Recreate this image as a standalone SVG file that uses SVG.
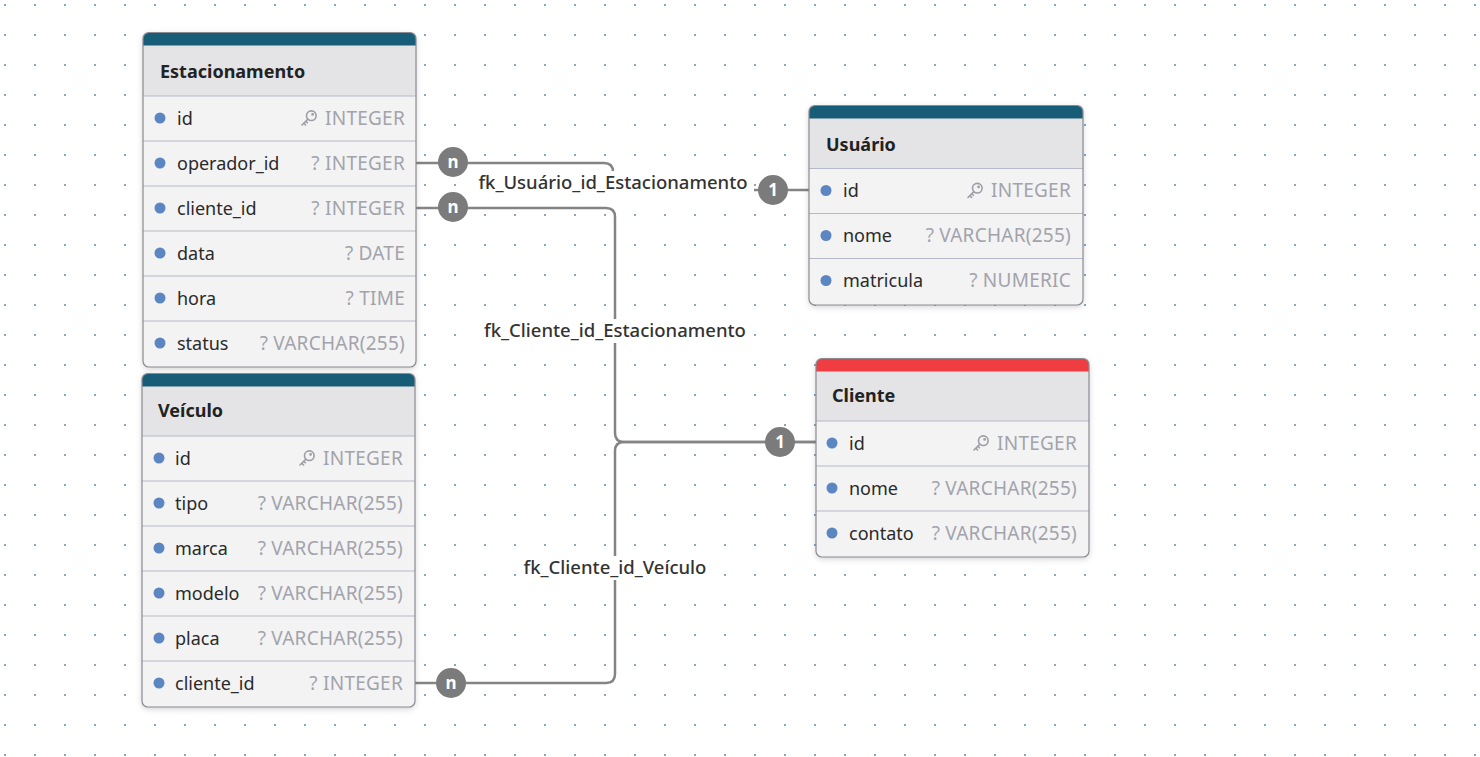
<svg xmlns="http://www.w3.org/2000/svg" xmlns:xlink="http://www.w3.org/1999/xlink" width="1480" height="757" viewBox="0 0 1480 757">
<style>
.title{font-family:"Noto Sans","Open Sans",sans-serif;font-size:18px;font-weight:700;fill:#222}
.fname{font-family:"Noto Sans","Open Sans",sans-serif;font-size:18px;fill:#2a2a2a}
.ftype{font-family:"Noto Sans","Open Sans",sans-serif;font-size:19px;letter-spacing:0.25px;fill:#a2a3ab;text-anchor:end}
.lbl{font-family:"Noto Sans","Open Sans",sans-serif;font-size:18.5px;font-weight:500;fill:#333;text-anchor:middle}
.card{font-family:"Noto Sans","Open Sans",sans-serif;font-size:17px;font-weight:700;fill:#fff;text-anchor:middle}
.body{fill:#f3f3f4}
.hdr{fill:#e4e4e7}
.teal{fill:#185d78}
.red{fill:#ef3d42}
.sep{stroke:#b6b9c7;stroke-width:1}
.border{fill:none;stroke:#8b8b93;stroke-width:1.2}
.dot{fill:#5b86c1}
.conn{fill:none;stroke:#848484;stroke-width:2.5}
.badge{fill:#7b7b7b}
.lblbg{fill:#ffffff}
.key{fill:none;stroke:#9c9da5;stroke-width:1.6;stroke-linecap:round}
</style>
<defs>
<pattern id="grid" x="0" y="0" width="30" height="30" patternUnits="userSpaceOnUse">
<rect x="4" y="4" width="2" height="2" fill="#7fa8c9"/>
</pattern>
<filter id="sh" x="-10%" y="-10%" width="120%" height="120%">
<feDropShadow dx="0" dy="2" stdDeviation="3" flood-color="#000" flood-opacity="0.18"/>
</filter>
<symbol id="keyic" viewBox="0 0 16 16" width="16" height="16" overflow="visible">
<circle class="key" cx="10.3" cy="5.7" r="4.8"/>
<circle class="key" cx="11.6" cy="4.4" r="0.6"/>
<path class="key" d="M7 9 L1 15 M2.8 13.2 L4.6 15 M4.8 11.2 L6.4 12.8"/>
</symbol>
</defs>
<rect width="1480" height="757" fill="#ffffff"/>
<rect width="1480" height="757" fill="url(#grid)"/>

<g id="connectors">
<path class="conn" d="M416 163 H604 Q613 163 613 172 V181 Q613 190 622 190 H809"/>
<path class="conn" d="M416 208 H606 Q615 208 615 217 V433 Q615 442 624 442 H816"/>
<path class="conn" d="M415 683 H606 Q615 683 615 674 V451 Q615 442 624 442 H816"/>
<rect class="lblbg" x="472" y="171" width="282" height="24"/>
<text class="lbl" x="613" y="189">fk_Usuário_id_Estacionamento</text>
<rect class="lblbg" x="478" y="319" width="274" height="24"/>
<text class="lbl" x="615" y="337">fk_Cliente_id_Estacionamento</text>
<rect class="lblbg" x="516" y="556" width="198" height="24"/>
<text class="lbl" x="615" y="574">fk_Cliente_id_Veículo</text>
<circle class="badge" cx="453" cy="162" r="15"/>
<text class="card" x="453" y="168">n</text>
<circle class="badge" cx="453" cy="207" r="15"/>
<text class="card" x="453" y="213">n</text>
<circle class="badge" cx="451" cy="683" r="15"/>
<text class="card" x="451" y="689">n</text>
<circle class="badge" cx="773" cy="190" r="15"/>
<text class="card" x="773" y="196">1</text>
<circle class="badge" cx="780" cy="442" r="15"/>
<text class="card" x="780" y="448">1</text>
</g>

<g id="Estacionamento" transform="translate(143,32.5)">
<rect class="body" x="0" y="0" width="273" height="334.5" rx="6" filter="url(#sh)"/>
<path class="hdr" d="M0 6 A6 6 0 0 1 6 0 H267 A6 6 0 0 1 273 6 V63.5 H0 Z"/>
<path class="teal" d="M0 6 A6 6 0 0 1 6 0 H267 A6 6 0 0 1 273 6 V13 H0 Z"/>
<line class="sep" x1="0" y1="63.5" x2="273" y2="63.5"/>
<line class="sep" x1="0" y1="108.5" x2="273" y2="108.5"/>
<line class="sep" x1="0" y1="153.5" x2="273" y2="153.5"/>
<line class="sep" x1="0" y1="198.5" x2="273" y2="198.5"/>
<line class="sep" x1="0" y1="243.5" x2="273" y2="243.5"/>
<line class="sep" x1="0" y1="288.5" x2="273" y2="288.5"/>
<text class="title" x="17" y="45">Estacionamento</text>
<circle class="dot" cx="17" cy="85.5" r="5.5"/><text class="fname" x="34" y="92">id</text>
<use xlink:href="#keyic" x="158" y="77.5"/><text class="ftype" x="262" y="92">INTEGER</text>
<circle class="dot" cx="17" cy="130.5" r="5.5"/><text class="fname" x="34" y="137">operador_id</text><text class="ftype" x="262" y="137">? INTEGER</text>
<circle class="dot" cx="17" cy="175.5" r="5.5"/><text class="fname" x="34" y="182">cliente_id</text><text class="ftype" x="262" y="182">? INTEGER</text>
<circle class="dot" cx="17" cy="220.5" r="5.5"/><text class="fname" x="34" y="227">data</text><text class="ftype" x="262" y="227">? DATE</text>
<circle class="dot" cx="17" cy="265.5" r="5.5"/><text class="fname" x="34" y="272">hora</text><text class="ftype" x="262" y="272">? TIME</text>
<circle class="dot" cx="17" cy="310.5" r="5.5"/><text class="fname" x="34" y="317">status</text><text class="ftype" x="262" y="317">? VARCHAR(255)</text>
<rect class="border" x="0" y="0" width="273" height="334.5" rx="6"/>
</g>

<g id="Usuario" transform="translate(809,105.5)">
<rect class="body" x="0" y="0" width="274" height="199.5" rx="6" filter="url(#sh)"/>
<path class="hdr" d="M0 6 A6 6 0 0 1 6 0 H268 A6 6 0 0 1 274 6 V63 H0 Z"/>
<path class="teal" d="M0 6 A6 6 0 0 1 6 0 H268 A6 6 0 0 1 274 6 V13 H0 Z"/>
<line class="sep" x1="0" y1="63" x2="274" y2="63"/>
<line class="sep" x1="0" y1="108" x2="274" y2="108"/>
<line class="sep" x1="0" y1="153" x2="274" y2="153"/>
<text class="title" x="17" y="45">Usuário</text>
<circle class="dot" cx="17" cy="85" r="5.5"/><text class="fname" x="34" y="91.5">id</text>
<use xlink:href="#keyic" x="158" y="77"/><text class="ftype" x="262" y="91.5">INTEGER</text>
<circle class="dot" cx="17" cy="130" r="5.5"/><text class="fname" x="34" y="136.5">nome</text><text class="ftype" x="262" y="136.5">? VARCHAR(255)</text>
<circle class="dot" cx="17" cy="175" r="5.5"/><text class="fname" x="34" y="181.5">matricula</text><text class="ftype" x="262" y="181.5">? NUMERIC</text>
<rect class="border" x="0" y="0" width="274" height="199.5" rx="6"/>
</g>

<g id="Cliente" transform="translate(816,358.5)">
<rect class="body" x="0" y="0" width="273" height="198.5" rx="6" filter="url(#sh)"/>
<path class="hdr" d="M0 6 A6 6 0 0 1 6 0 H267 A6 6 0 0 1 273 6 V62.5 H0 Z"/>
<path class="red" d="M0 6 A6 6 0 0 1 6 0 H267 A6 6 0 0 1 273 6 V13 H0 Z"/>
<line class="sep" x1="0" y1="62.5" x2="273" y2="62.5"/>
<line class="sep" x1="0" y1="107.5" x2="273" y2="107.5"/>
<line class="sep" x1="0" y1="152.5" x2="273" y2="152.5"/>
<text class="title" x="16" y="43">Cliente</text>
<circle class="dot" cx="16" cy="84.5" r="5.5"/><text class="fname" x="33" y="91">id</text>
<use xlink:href="#keyic" x="157" y="76.5"/><text class="ftype" x="261" y="91">INTEGER</text>
<circle class="dot" cx="16" cy="129.5" r="5.5"/><text class="fname" x="33" y="136">nome</text><text class="ftype" x="261" y="136">? VARCHAR(255)</text>
<circle class="dot" cx="16" cy="174.5" r="5.5"/><text class="fname" x="33" y="181">contato</text><text class="ftype" x="261" y="181">? VARCHAR(255)</text>
<rect class="border" x="0" y="0" width="273" height="198.5" rx="6"/>
</g>

<g id="Veiculo" transform="translate(142,373.5)">
<rect class="body" x="0" y="0" width="273" height="333.5" rx="6" filter="url(#sh)"/>
<path class="hdr" d="M0 6 A6 6 0 0 1 6 0 H267 A6 6 0 0 1 273 6 V62.5 H0 Z"/>
<path class="teal" d="M0 6 A6 6 0 0 1 6 0 H267 A6 6 0 0 1 273 6 V13 H0 Z"/>
<line class="sep" x1="0" y1="62.5" x2="273" y2="62.5"/>
<line class="sep" x1="0" y1="107.5" x2="273" y2="107.5"/>
<line class="sep" x1="0" y1="152.5" x2="273" y2="152.5"/>
<line class="sep" x1="0" y1="197.5" x2="273" y2="197.5"/>
<line class="sep" x1="0" y1="242.5" x2="273" y2="242.5"/>
<line class="sep" x1="0" y1="287.5" x2="273" y2="287.5"/>
<text class="title" x="16" y="43">Veículo</text>
<circle class="dot" cx="17" cy="84.5" r="5.5"/><text class="fname" x="33" y="91">id</text>
<use xlink:href="#keyic" x="157" y="76.5"/><text class="ftype" x="261" y="91">INTEGER</text>
<circle class="dot" cx="17" cy="129.5" r="5.5"/><text class="fname" x="33" y="136">tipo</text><text class="ftype" x="261" y="136">? VARCHAR(255)</text>
<circle class="dot" cx="17" cy="174.5" r="5.5"/><text class="fname" x="33" y="181">marca</text><text class="ftype" x="261" y="181">? VARCHAR(255)</text>
<circle class="dot" cx="17" cy="219.5" r="5.5"/><text class="fname" x="33" y="226">modelo</text><text class="ftype" x="261" y="226">? VARCHAR(255)</text>
<circle class="dot" cx="17" cy="264.5" r="5.5"/><text class="fname" x="33" y="271">placa</text><text class="ftype" x="261" y="271">? VARCHAR(255)</text>
<circle class="dot" cx="17" cy="309.5" r="5.5"/><text class="fname" x="33" y="316">cliente_id</text><text class="ftype" x="261" y="316">? INTEGER</text>
<rect class="border" x="0" y="0" width="273" height="333.5" rx="6"/>
</g>
</svg>
